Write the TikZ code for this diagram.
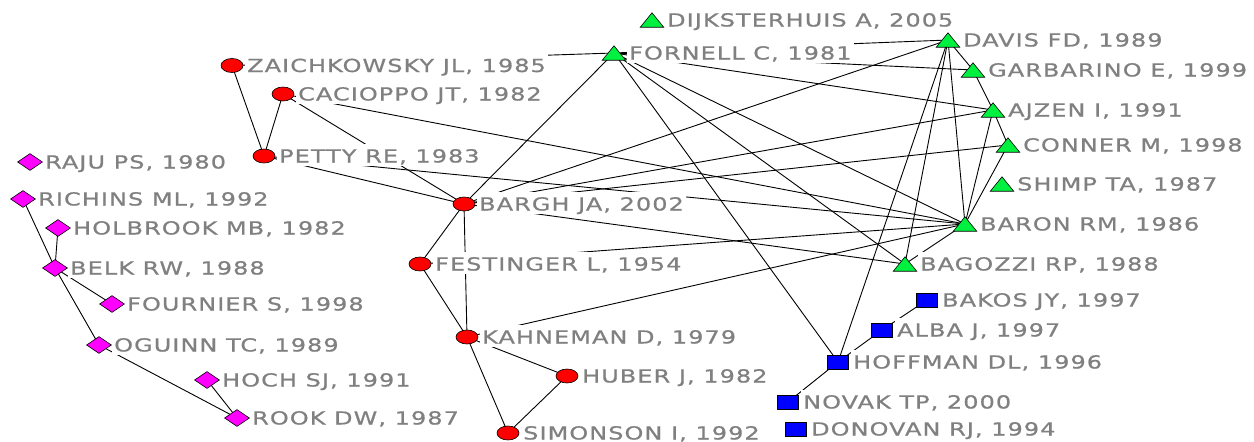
\documentclass[tikz,border=0pt]{standalone}
\usepackage{fontspec}
\newfontfamily\labfont[FakeStretch=1.33,LetterSpace=6,FakeBold=0.8]{DejaVu Sans}
\usetikzlibrary{shapes.geometric}
\definecolor{labgray}{RGB}{128,128,128}
\definecolor{nred}{RGB}{255,0,0}
\definecolor{ngreen}{RGB}{0,240,64}
\definecolor{nmag}{RGB}{255,0,255}
\definecolor{nblue}{RGB}{0,0,255}
\pgfdeclarelayer{bg}
\pgfsetlayers{bg,main}
\tikzset{
  lab/.style={anchor=base west, fill=white, inner xsep=2pt, inner ysep=0pt,
    text height=18.5pt, text depth=3.5pt,
    font=\labfont\fontsize{18}{20}\selectfont, text=labgray},
  redn/.style={ellipse, draw=black, line width=0.6pt, fill=nred,
    minimum width=22pt, minimum height=14pt, inner sep=0pt},
  magn/.style={diamond, draw=black, line width=0.6pt, fill=nmag,
    minimum width=25pt, minimum height=17pt, inner sep=0pt},
  bluen/.style={rectangle, draw=black, line width=0.6pt, fill=nblue,
    minimum width=21pt, minimum height=14pt, inner sep=0pt},
  trib/.style={rectangle, minimum width=23pt, minimum height=14pt, inner sep=0pt},
  tri/.style={fill=ngreen, draw=black, line width=0.6pt, line join=miter},
  edge/.style={draw=black, line width=0.9pt}
}
\newcommand\pnode[5]{%
  \node[#2] (#1) at (#3,#4) {};
  \node[lab] (#1T) at ({#3+13},{#4+6.5}) {#5};}
\newcommand\tnode[4]{%
  \node[trib] (#1) at (#2,#3) {};
  \filldraw[tri] (#1.south west) -- (#1.south east) -- (#1.north) -- cycle;
  \node[lab] (#1T) at ({#2+13},{#3+6.5}) {#4};}
\newcommand\ed[2]{\draw[edge] (#1.center) -- (#2.center);}
\begin{document}
\begin{tikzpicture}[x=1pt,y=-1pt]
\useasboundingbox (0,0) rectangle (1254,442);
% red cluster
\pnode{zai}{redn}{232}{65.5}{ZAICHKOWSKY JL, 1985}
\pnode{cac}{redn}{283}{94}{CACIOPPO JT, 1982}
\pnode{pet}{redn}{264}{156}{PETTY RE, 1983}
\pnode{bargh}{redn}{464}{204}{BARGH JA, 2002}
\pnode{fest}{redn}{420}{264}{FESTINGER L, 1954}
\pnode{kah}{redn}{467}{337}{KAHNEMAN D, 1979}
\pnode{hub}{redn}{567}{376}{HUBER J, 1982}
\pnode{sim}{redn}{508}{433}{SIMONSON I, 1992}
% green cluster
\tnode{dij}{652}{20}{DIJKSTERHUIS A, 2005}
\tnode{forn}{614}{53}{FORNELL C, 1981}
\tnode{davis}{948}{40}{DAVIS FD, 1989}
\tnode{garb}{973}{70}{GARBARINO E, 1999}
\tnode{ajz}{993}{110}{AJZEN I, 1991}
\tnode{conn}{1008}{145}{CONNER M, 1998}
\tnode{shimp}{1002}{184}{SHIMP TA, 1987}
\tnode{baron}{965}{224}{BARON RM, 1986}
\tnode{bag}{905}{264}{BAGOZZI RP, 1988}
% magenta cluster
\pnode{raju}{magn}{30}{162}{RAJU PS, 1980}
\pnode{rich}{magn}{23}{199}{RICHINS ML, 1992}
\pnode{holb}{magn}{58}{228}{HOLBROOK MB, 1982}
\pnode{belk}{magn}{55}{268}{BELK RW, 1988}
\pnode{four}{magn}{112}{304}{FOURNIER S, 1998}
\pnode{ogu}{magn}{99}{345}{OGUINN TC, 1989}
\pnode{hoch}{magn}{207}{380}{HOCH SJ, 1991}
\pnode{rook}{magn}{237}{418}{ROOK DW, 1987}
% blue cluster
\pnode{bakos}{bluen}{927}{300}{BAKOS JY, 1997}
\pnode{alba}{bluen}{882}{330}{ALBA J, 1997}
\pnode{hoff}{bluen}{838}{362}{HOFFMAN DL, 1996}
\pnode{novak}{bluen}{788}{402}{NOVAK TP, 2000}
\pnode{don}{bluen}{796}{429}{DONOVAN RJ, 1994}
\begin{pgfonlayer}{bg}
\fill[white] (0,0) rectangle (1254,442);
\ed{zai}{pet}\ed{cac}{pet}\ed{cac}{bargh}\ed{cac}{baron}
\ed{pet}{bargh}\ed{pet}{baron}\ed{zai}{forn}
\ed{bargh}{fest}\ed{bargh}{kah}\ed{fest}{kah}\ed{kah}{sim}\ed{kah}{hub}\ed{hub}{sim}
\ed{bargh}{forn}\ed{bargh}{davis}\ed{bargh}{ajz}\ed{bargh}{conn}\ed{bargh}{bag}
\ed{fest}{baron}\ed{kah}{baron}
\ed{forn}{hoff}\ed{forn}{bag}\ed{forn}{baron}\ed{forn}{ajz}\ed{forn}{garb}\ed{forn}{davis}
\ed{davis}{garb}\ed{davis}{baron}\ed{davis}{bag}\ed{davis}{hoff}
\ed{garb}{ajz}\ed{ajz}{conn}\ed{ajz}{baron}\ed{conn}{baron}\ed{baron}{bag}
\ed{hoff}{alba}\ed{alba}{bakos}\ed{hoff}{novak}
\ed{rich}{belk}\ed{holb}{belk}\ed{belk}{four}\ed{belk}{ogu}\ed{ogu}{rook}\ed{hoch}{rook}
\end{pgfonlayer}
\end{tikzpicture}
\end{document}
